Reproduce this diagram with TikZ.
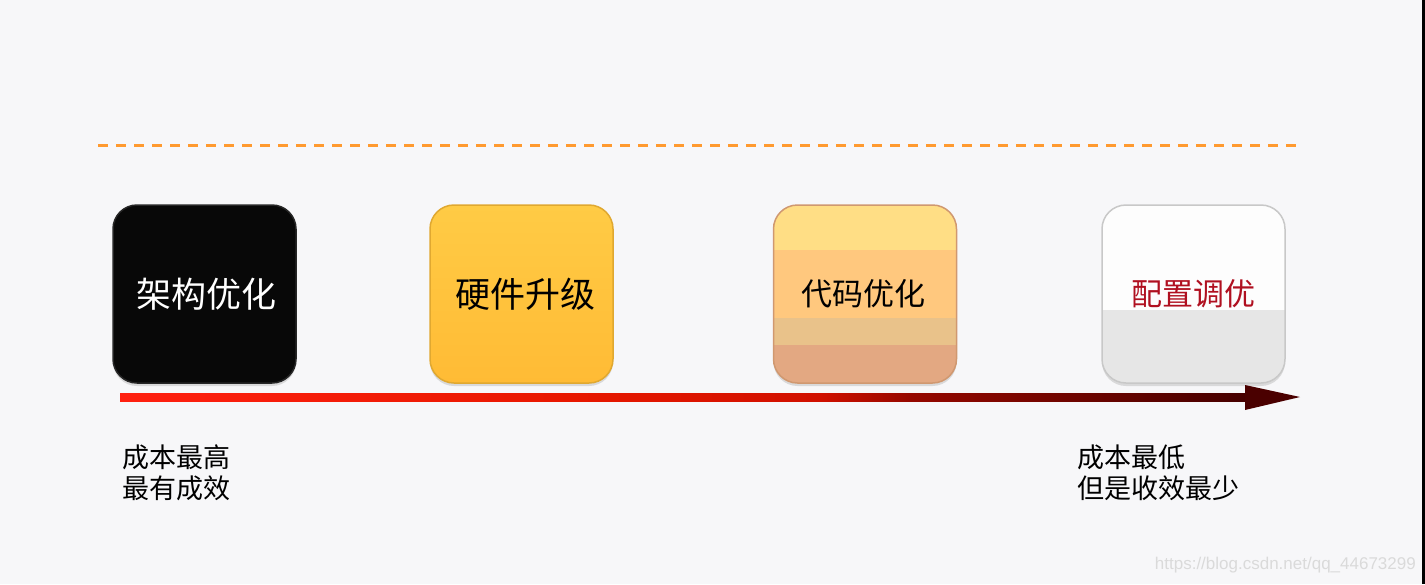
\documentclass[tikz,border=0pt]{standalone}
\usepackage{fontspec}
\setmainfont{Noto Sans CJK SC}
\newfontfamily\wmfont{Liberation Sans}
\usetikzlibrary{shadows}
\definecolor{bg}{HTML}{F7F7F9}
\definecolor{dashc}{HTML}{FF9A30}
\definecolor{rA}{HTML}{FF2010}
\definecolor{rB}{HTML}{E81800}
\definecolor{rC}{HTML}{D01000}
\definecolor{rD}{HTML}{950800}
\definecolor{rE}{HTML}{450000}
\definecolor{headc}{HTML}{4A0000}
\definecolor{goldA}{HTML}{FFCB45}
\definecolor{goldB}{HTML}{FFBB35}
\definecolor{goldE}{HTML}{E0A830}
\definecolor{peachA}{HTML}{FFDE85}
\definecolor{peachB}{HTML}{FFC87E}
\definecolor{peachC}{HTML}{E9C28A}
\definecolor{peachD}{HTML}{E3A882}
\definecolor{peachE}{HTML}{D09870}
\definecolor{greyA}{HTML}{FDFDFD}
\definecolor{greyB}{HTML}{E6E6E6}
\definecolor{greyE}{HTML}{C8C8C8}
\definecolor{redtxt}{HTML}{B01020}
\definecolor{wmc}{HTML}{DADADA}
\pgfdeclarehorizontalshading{timeline}{100bp}{color(0bp)=(rA); color(25bp)=(rA); color(45bp)=(rB); color(56bp)=(rC); color(60bp)=(rD); color(75bp)=(rE); color(100bp)=(rE)}
\begin{document}
\begin{tikzpicture}[x=1pt,y=-1pt,
  box/.style={rounded corners=24pt, minimum width=183pt, minimum height=178pt,
    inner sep=0pt, line width=1.5pt, font=\fontsize{35}{40}\selectfont,
    drop shadow={opacity=0.25, shadow xshift=0pt, shadow yshift=-3pt}},
  band/.style={sharp corners},
  lowtext/.style={anchor=north west, align=left, inner sep=0pt,
    font=\fontsize{27}{31}\selectfont}]
\fill[bg] (0,0) rectangle (1425,584);
\useasboundingbox (0,0) rectangle (1425,584);
\fill[black] (1422,0) rectangle (1425,584);

% dashed line
\coordinate (d1) at (98,145);
\coordinate (d2) at (1300,145);
\draw[dashc, line width=3pt, dash pattern=on 10pt off 8pt] (d1) -- (d2);

% boxes
\node[box, fill=black!97, draw=black!85, text=white] (b1) at (204.5,294) {\raisebox{-3pt}{\hspace*{4pt}架构优化}};
\node[box, top color=goldA, bottom color=goldB, draw=goldE] (b2) at (521.5,294) {\raisebox{-3pt}{\hspace*{8pt}硬件升级}};
\node[box, draw=peachE, font=\fontsize{31}{36}\selectfont,
  path picture={
    \fill[band, peachD] (path picture bounding box.north west) rectangle (path picture bounding box.south east);
    \fill[band, peachA] (path picture bounding box.north west) rectangle ([yshift=-45pt]path picture bounding box.north east);
    \fill[band, peachB] ([yshift=-45pt]path picture bounding box.north west) rectangle ([yshift=-113pt]path picture bounding box.north east);
    \fill[band, peachC] ([yshift=-113pt]path picture bounding box.north west) rectangle ([yshift=-140pt]path picture bounding box.north east);
  }] (b3) at (865,294) {\raisebox{1pt}{\hspace*{-4pt}代码优化}};
\node[box, draw=greyE, text=redtxt, font=\fontsize{31}{36}\selectfont,
  path picture={
    \fill[band, greyB] (path picture bounding box.north west) rectangle (path picture bounding box.south east);
    \fill[band, greyA] (path picture bounding box.north west) rectangle ([yshift=-105pt]path picture bounding box.north east);
  }] (b4) at (1193.5,294) {配置调优};

% timeline arrow
\coordinate (as) at (120,397);
\coordinate (ae) at (1300,397);
\fill[shading=timeline] ([yshift=4pt]as) rectangle ([xshift=-50pt,yshift=-4pt]ae);
\fill[headc] ([xshift=-55pt,yshift=12pt]ae) -- (ae) -- ([xshift=-55pt,yshift=-13pt]ae) -- cycle;

% lower labels
\node[lowtext] (t1) at (122,445) {成本最高\\最有成效};
\node[lowtext] (t2) at (1077,445) {成本最低\\但是收效最少};

% watermark
\node[anchor=east, inner sep=0pt, text=wmc, font=\wmfont\fontsize{17}{20}\selectfont] (wm) at (1416,565) {https://blog.csdn.net/qq\_44673299};
\end{tikzpicture}
\end{document}
